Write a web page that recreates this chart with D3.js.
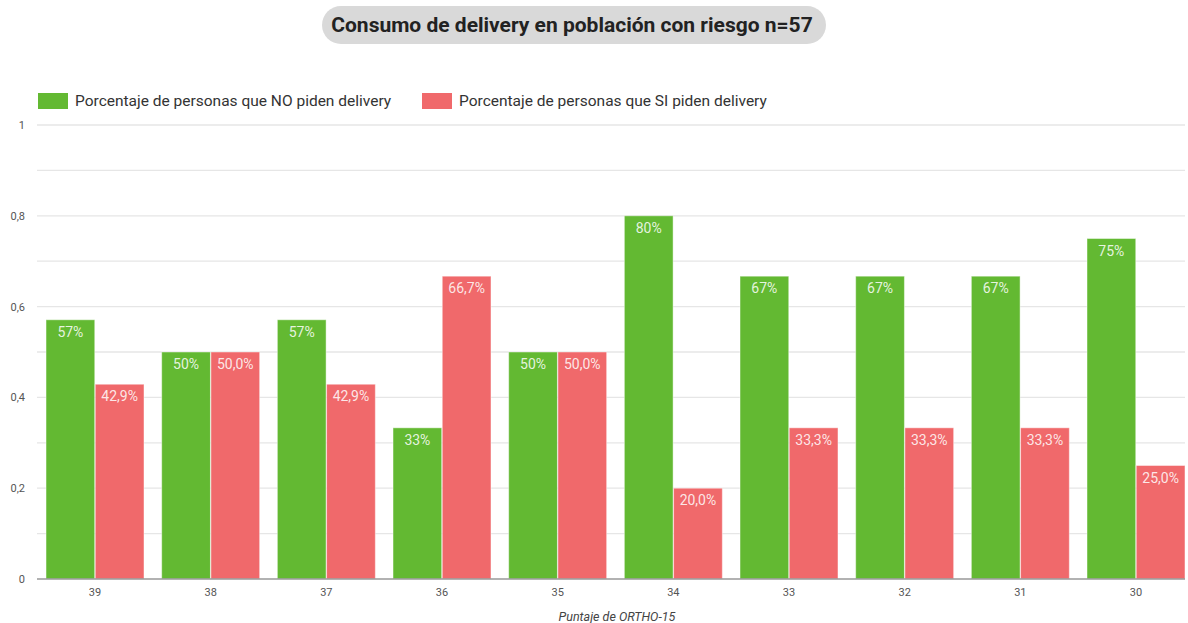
<!DOCTYPE html>
<html>
<head>
<meta charset="utf-8">
<script src="https://cdn.jsdelivr.net/npm/d3@7"></script>
<style>
  body { margin: 0; background: #fff; }
  text { font-family: Roboto, "Noto Sans", sans-serif; }
</style>
</head>
<body>
<div class="chart"></div>
<script>
let categories = ['39', '38', '37', '36', '35', '34', '33', '32', '31', '30'];
let noDelivery = [0.571, 0.5, 0.571, 0.333, 0.5, 0.8, 0.667, 0.667, 0.667, 0.75];
let siDelivery = [0.429, 0.5, 0.429, 0.667, 0.5, 0.2, 0.333, 0.333, 0.333, 0.25];
let seriesNames = ['Porcentaje de personas que NO piden delivery', 'Porcentaje de personas que SI piden delivery'];
let yTicks = [0, 0.2, 0.4, 0.6, 0.8, 1];
let gridTicks = [0.1, 0.2, 0.3, 0.4, 0.5, 0.6, 0.7, 0.8, 0.9, 1];

let colors = ['#63b932', '#f0696b'];

let svg = d3.select('.chart')
  .append('svg')
  .attr('width', 1188)
  .attr('height', 623);

let x0 = d3.scaleBand()
  .domain(categories)
  .range([37, 1194])
  .paddingInner(0.153)
  .paddingOuter(0.078);

let x1 = d3.scaleBand()
  .domain([0, 1])
  .range([0, x0.bandwidth()])
  .paddingInner(0.01);

let y = d3.scaleLinear()
  .domain([0, 1])
  .range([579, 125]);

// title pill
svg.append('rect')
  .attr('x', 322).attr('y', 6)
  .attr('width', 504).attr('height', 38)
  .attr('rx', 19)
  .attr('fill', '#d9d9d9');

svg.append('text')
  .attr('x', 572).attr('y', 32)
  .attr('text-anchor', 'middle')
  .attr('font-size', 21)
  .attr('font-weight', 'bold')
  .attr('fill', '#222')
  .text('Consumo de delivery en población con riesgo n=57');

// legend
let legendX = [38, 422];
seriesNames.forEach((name, i) => {
  svg.append('rect')
    .attr('x', legendX[i]).attr('y', 93)
    .attr('width', 30).attr('height', 16)
    .attr('fill', colors[i]);
  svg.append('text')
    .attr('x', legendX[i] + 37).attr('y', 106)
    .attr('font-size', 15.5)
    .attr('fill', '#333')
    .text(name);
});

// grid
svg.append('g')
  .selectAll('line')
  .data(gridTicks)
  .join('line')
  .attr('x1', 37).attr('x2', 1185)
  .attr('y1', d => y(d)).attr('y2', d => y(d))
  .attr('stroke', '#e6e6e6')
  .attr('stroke-width', 1.3);

// y axis labels
let yAxis = svg.append('g')
  .attr('transform', 'translate(25,0)')
  .call(d3.axisLeft(y).tickValues(yTicks).tickSize(0).tickPadding(0)
    .tickFormat(d => d3.format('.1~f')(d).replace('.', ',')));
yAxis.select('.domain').remove();
yAxis.selectAll('text')
  .attr('font-size', 11)
  .attr('fill', '#555')
  .attr('font-family', 'Roboto, sans-serif');

// bars
let series = [noDelivery, siDelivery];
let groups = svg.append('g')
  .selectAll('g')
  .data(categories)
  .join('g')
  .attr('transform', d => `translate(${x0(d)},0)`);

groups.selectAll('rect')
  .data((d, i) => series.map((s, k) => ({ k: k, v: s[i] })))
  .join('rect')
  .attr('x', d => x1(d.k))
  .attr('y', d => y(d.v))
  .attr('width', x1.bandwidth())
  .attr('height', d => y(0) - y(d.v))
  .attr('fill', d => colors[d.k])
  .attr('stroke', 'rgba(255,255,255,0.45)')
  .attr('stroke-width', 1);

groups.selectAll('text')
  .data((d, i) => series.map((s, k) => ({ k: k, v: s[i] })))
  .join('text')
  .attr('x', d => x1(d.k) + x1.bandwidth() / 2)
  .attr('y', d => y(d.v) + 17)
  .attr('text-anchor', 'middle')
  .attr('font-size', 14)
  .attr('fill', 'rgba(255,255,255,0.85)')
  .text(d => d.k === 0
    ? Math.round(d.v * 100) + '%'
    : d3.format('.1f')(d.v * 100).replace('.', ',') + '%');

// x axis
svg.append('line')
  .attr('x1', 37).attr('x2', 1185)
  .attr('y1', y(0)).attr('y2', y(0))
  .attr('stroke', '#999')
  .attr('stroke-width', 1.5);

let xAxis = svg.append('g')
  .attr('transform', `translate(0,${y(0)})`)
  .call(d3.axisBottom(x0).tickSize(0).tickPadding(9));
xAxis.select('.domain').remove();
xAxis.selectAll('text')
  .attr('font-size', 11)
  .attr('fill', '#555')
  .attr('font-family', 'Roboto, sans-serif');

svg.append('text')
  .attr('x', 617).attr('y', 621)
  .attr('text-anchor', 'middle')
  .attr('font-size', 12.5)
  .attr('font-style', 'italic')
  .attr('fill', '#444')
  .text('Puntaje de ORTHO-15');
</script>
</body>
</html>
